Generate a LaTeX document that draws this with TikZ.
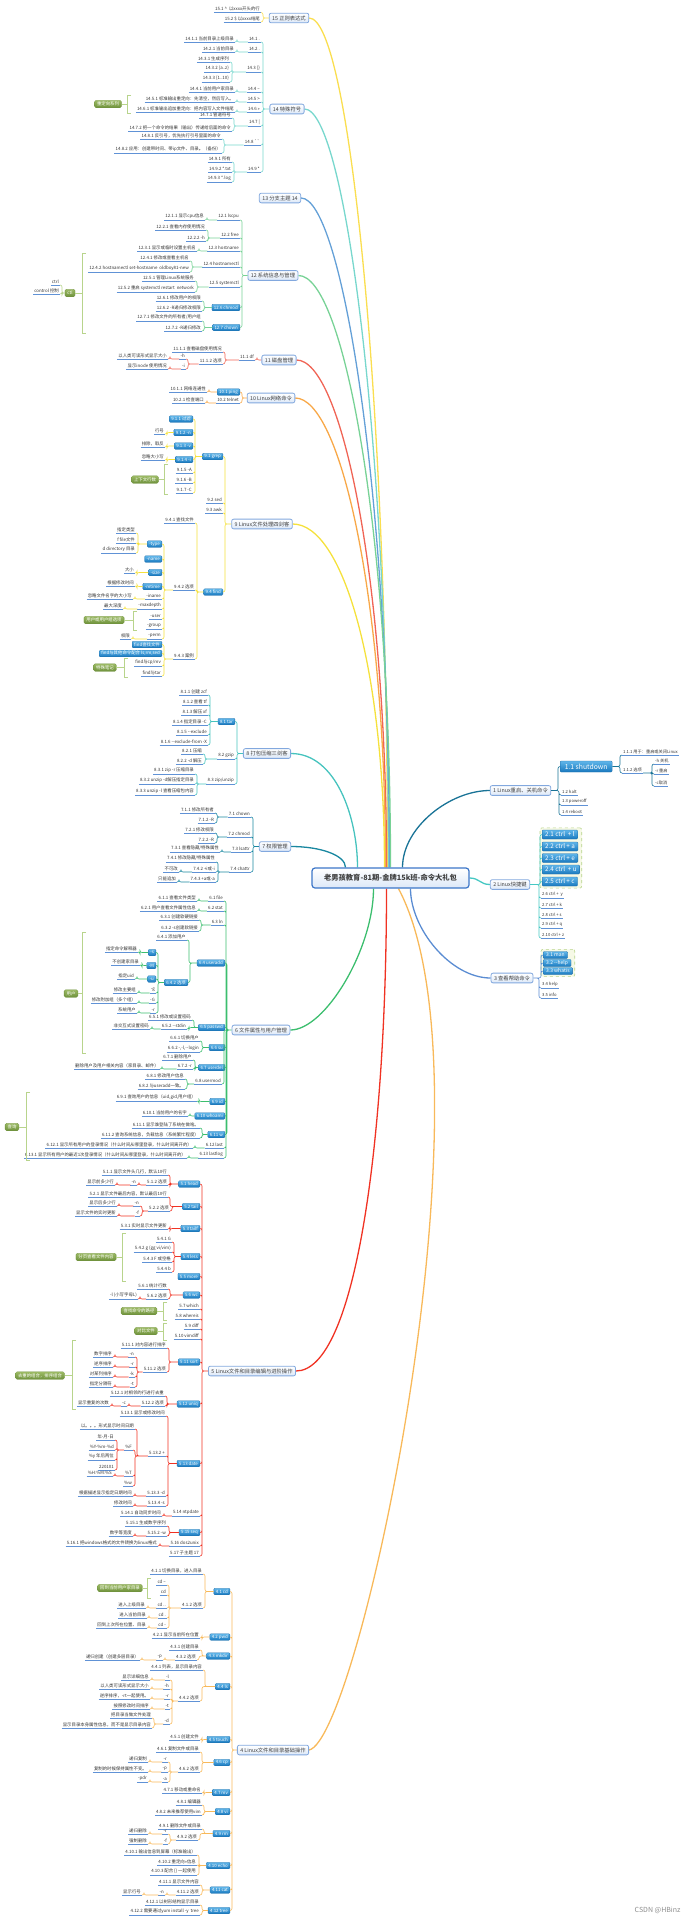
\documentclass[tikz,border=0pt]{standalone}
\usepackage{fontspec}
\setmainfont{Noto Sans CJK SC}
\usetikzlibrary{positioning,fit,backgrounds}
\definecolor{ulblue}{RGB}{96,146,214}
\definecolor{boxtop}{RGB}{96,182,234}
\definecolor{boxbot}{RGB}{24,120,190}
\definecolor{boxline}{RGB}{30,110,170}
\definecolor{mainfill}{RGB}{220,232,248}
\definecolor{mainline}{RGB}{130,168,222}
\definecolor{rootline}{RGB}{60,118,200}
\definecolor{sumtop}{RGB}{156,186,100}
\definecolor{sumbot}{RGB}{110,145,60}
\definecolor{brkgreen}{RGB}{184,212,140}
\definecolor{grpfill}{RGB}{246,249,230}
\definecolor{c15}{RGB}{250,222,80}
\definecolor{c14}{RGB}{120,215,205}
\definecolor{c13}{RGB}{100,160,215}
\definecolor{c12}{RGB}{120,210,150}
\definecolor{c11}{RGB}{240,100,85}
\definecolor{c10}{RGB}{248,168,72}
\definecolor{c9}{RGB}{245,225,60}
\definecolor{c8}{RGB}{70,195,190}
\definecolor{c7}{RGB}{25,135,160}
\definecolor{c6}{RGB}{60,190,110}
\definecolor{c5}{RGB}{240,50,35}
\definecolor{c4}{RGB}{248,185,90}
\definecolor{c1}{RGB}{25,115,150}
\definecolor{c2}{RGB}{70,200,195}
\definecolor{c3}{RGB}{90,140,210}
\newcommand{\fsz}[1]{\fontsize{#1}{#1}\selectfont}

\begin{document}
\begin{tikzpicture}[x=1pt, y=-1pt,
  root/.style={draw=rootline, line width=1.2pt, top color=white, bottom color=mainfill,
               rounded corners=3pt, font=\bfseries\fsz{7.3}, text=black!75,
               minimum width=157pt, minimum height=20pt},
  main/.style={draw=mainline, line width=0.8pt, top color=white, bottom color=mainfill,
               rounded corners=2pt, font=\fsz{5.3}, text=black!75, inner xsep=3pt, inner ysep=2.4pt},
  topic/.style={anchor=south east, font=\fsz{4.4}, text=black!80, inner xsep=1pt, inner ysep=1.2pt,
               append after command={(\tikzlastnode.south west) edge[uline] (\tikzlastnode.south east)}},
  topicr/.style={topic, anchor=south west, font=\fsz{4.2}},
  uline/.style={draw=ulblue, line width=0.9pt},
  bluebox/.style={anchor=east, font=\fsz{4.4}, text=white, top color=boxtop, bottom color=boxbot,
               draw=boxline, line width=0.3pt, rounded corners=1pt, inner xsep=2pt, inner ysep=1pt,
               minimum height=6.5pt},
  bigbox/.style={bluebox, anchor=west, font=\fsz{6.3}, minimum height=9pt, inner xsep=3pt},
  summary/.style={font=\fsz{4.4}, text=white, top color=sumtop, bottom color=sumbot, draw=sumbot,
               line width=0.3pt, rounded corners=1.5pt, inner xsep=2.5pt, inner ysep=1.5pt, minimum height=7.5pt},
  brace/.style={draw=brkgreen, line width=1pt},
  grp/.style={draw=brkgreen, dashed, line width=0.6pt, fill=grpfill, rounded corners=2pt, inner sep=2pt},
  tree/.style={rounded corners=2pt, line width=0.6pt, to path={-- ++(2,0) |- (\tikztotarget)}},
  treer/.style={rounded corners=2pt, line width=0.6pt, to path={-- ++(-2,0) |- (\tikztotarget)}},
  branch/.style={line width=1.3pt}
]
\useasboundingbox (0,0) rectangle (688,1920);

% root
\node[root] (root) at (390.5,878) {老男孩教育-81期-金牌15k班-命令大礼包};

% 15 regex
\node[main] (n15) at (289,18) {15 正则表达式};
\node[topic] (t15a) at (261,12.5) {15.1 \textasciicircum\ \ 以xxxx开头的行};
\node[topic] (t15b) at (261,22) {15.2 \$ 以xxxx结尾};
\draw[c15,tree] (t15a.south east) to (n15.west) (t15b.south east) to (n15.west);

% 14 special symbols
\node[main] (n14) at (287,109) {14 特殊符号};
\node[topic] (t14a) at (261,42) {14.1 .};
\node[topic] (t14a1) at (235,42) {14.1.1 当前目录上级目录};
\node[topic] (t14b) at (261,52) {14.2 .};
\node[topic] (t14b1) at (235,52) {14.2.1 当前目录};
\node[topic] (t14c) at (261,72) {14.3 \{\}};
\node[topic] (t14c1) at (230,62) {14.3.1 生成序列};
\node[topic] (t14c2) at (230,72) {14.3.2 \{a..z\}};
\node[topic] (t14c3) at (230,82) {14.3.3 \{1..10\}};
\node[topic] (t14d) at (261,92) {14.4 \textasciitilde};
\node[topic] (t14d1) at (235,92) {14.4.1 当前用户家目录};
\node[topic] (t14e) at (261,102) {14.5 >};
\node[topic] (t14e1) at (235,102) {14.5.1 标准输出重定向：先清空，然后写入。};
\node[topic] (t14f) at (261,112) {14.6 >>};
\node[topic] (t14f1) at (235,112) {14.6.1 标准输出追加重定向：把内容写入文件结尾};
\node[summary] (s14) at (108,104) {重定向系列};
\node[topic] (t14g) at (261,126) {14.7 \textbar};
\node[topic] (t14g1) at (232,118) {14.7.1 管道符号};
\node[topic] (t14g2) at (232,131) {14.7.2 把一个命令的结果（输出）传递给后面的命令};
\node[topic] (t14h) at (261,145) {14.8 \textasciigrave\textasciigrave};
\node[topic] (t14h1) at (222,139) {14.8.1 反引号，优先执行引号里面的命令};
\node[topic] (t14h2) at (222,153) {14.8.2 应用：创建带时间、带ip文件、目录。（备份）};
\node[topic] (t14i) at (261,172) {14.9 *};
\node[topic] (t14i1) at (232,162) {14.9.1 所有};
\node[topic] (t14i2) at (232,172) {14.9.2 *.txt};
\node[topic] (t14i3) at (232,182) {14.9.3 *.log};
\draw[c14,tree] (t14a.south east) to (n14.west) (t14b.south east) to (n14.west)
  (t14c.south east) to (n14.west) (t14d.south east) to (n14.west) (t14e.south east) to (n14.west)
  (t14f.south east) to (n14.west) (t14g.south east) to (n14.west) (t14h.south east) to (n14.west)
  (t14i.south east) to (n14.west);
\draw[c14,tree] (t14a1.south east) to (t14a.south west) (t14b1.south east) to (t14b.south west)
  (t14c1.south east) to (t14c.south west) (t14c2.south east) to (t14c.south west)
  (t14c3.south east) to (t14c.south west) (t14d1.south east) to (t14d.south west)
  (t14e1.south east) to (t14e.south west) (t14f1.south east) to (t14f.south west)
  (t14g1.south east) to (t14g.south west) (t14g2.south east) to (t14g.south west)
  (t14h1.south east) to (t14h.south west) (t14h2.south east) to (t14h.south west)
  (t14i1.south east) to (t14i.south west) (t14i2.south east) to (t14i.south west)
  (t14i3.south east) to (t14i.south west);
\draw[brace] (131,95) -- (127,95) -- (127,113) -- (131,113) (127,104) -- (s14.east);

% 13
\node[main] (n13) at (280,198) {13 分支主题 14};

% 12 system info
\node[main] (n12) at (273,275.5) {12 系统信息与管理};
\node[topic] (t12a) at (240,220) {12.1 lscpu};
\node[topic] (t12a1) at (205,220) {12.1.1 显示cpu信息};
\node[topic] (t12b) at (240,238) {12.2 free};
\node[topic] (t12b1) at (206,230) {12.2.1 查看内存使用情况};
\node[topic] (t12b2) at (206,241) {12.2.2 -h};
\node[topic] (t12c) at (240,251) {12.3 hostname};
\node[topic] (t12c1) at (197,251) {12.3.1 显示或临时设置主机名};
\node[topic] (t12d) at (240,267) {12.4 hostnamectl};
\node[topic] (t12d1) at (190,261) {12.4.1 修改或查看主机名};
\node[topic] (t12d2) at (190,272) {12.4.2 hostnamectl set-hostname \ oldboy81-new};
\node[topic] (t12e) at (240,287) {12.5 systemctl};
\node[topic] (t12e1) at (195,281) {12.5.1 管理Linux系统服务};
\node[topic] (t12e2) at (195,292) {12.5.2 重启 systemctl restart \ network};
\node[bluebox] (t12f) at (240,307.5) {12.6 chmod};
\node[topic] (t12f1) at (202,301) {12.6.1 修改用户的权限};
\node[topic] (t12f2) at (202,311) {12.6.2 -R递归修改权限};
\node[bluebox] (t12g) at (240,327.5) {12.7 chown};
\node[topic] (t12g1) at (202,321) {12.7.1 修改文件的所有者/用户组};
\node[topic] (t12g2) at (202,331) {12.7.2 -R递归修改};
\node[summary] (s12) at (70,293) {ctl};
\node[topic] (s12a) at (60,285) {ctrl};
\node[topic] (s12b) at (60,294) {control 控制};
\draw[c12,tree] (t12a.south east) to (n12.west) (t12b.south east) to (n12.west)
  (t12c.south east) to (n12.west) (t12d.south east) to (n12.west) (t12e.south east) to (n12.west)
  (t12f.east) to (n12.west) (t12g.east) to (n12.west);
\draw[c12,tree] (t12a1.south east) to (t12a.south west) (t12b1.south east) to (t12b.south west)
  (t12b2.south east) to (t12b.south west) (t12c1.south east) to (t12c.south west)
  (t12d1.south east) to (t12d.south west) (t12d2.south east) to (t12d.south west)
  (t12e1.south east) to (t12e.south west) (t12e2.south east) to (t12e.south west)
  (t12f1.south east) to (t12f.west) (t12f2.south east) to (t12f.west)
  (t12g1.south east) to (t12g.west) (t12g2.south east) to (t12g.west);
\draw[brkgreen,tree] (s12a.south east) to (s12.west) (s12b.south east) to (s12.west);
\draw[brace] (86,253) -- (82,253) -- (82,333) -- (86,333) (82,293) -- (s12.east);

% 11 disk
\node[main] (n11) at (279,360) {11 磁盘管理};
\node[topic] (t11a) at (255,360) {11.1 df};
\node[topic] (t11a1) at (223,352) {11.1.1 查看磁盘使用情况};
\node[topic] (t11a2) at (223,364) {11.1.2 选项};
\node[topic] (t11a2h) at (186,359) {-h};
\node[topic] (t11a2h1) at (168,359) {以人类可读形式显示大小};
\node[topic] (t11a2i) at (186,369) {-i};
\node[topic] (t11a2i1) at (168,369) {显示inode 使用情况};
\draw[c11,tree] (t11a.south east) to (n11.west) (t11a1.south east) to (t11a.south west)
  (t11a2.south east) to (t11a.south west) (t11a2h.south east) to (t11a2.south west)
  (t11a2i.south east) to (t11a2.south west) (t11a2h1.south east) to (t11a2h.south west)
  (t11a2i1.south east) to (t11a2i.south west);

% 10 network
\node[main] (n10) at (271,398) {10 Linux网络命令};
\node[bluebox] (t10a) at (240,392) {10.1 ping};
\node[topic] (t10a1) at (207,392) {10.1.1 网络连通性};
\node[topic] (t10b) at (240,403) {10.2 telnet};
\node[topic] (t10b1) at (205,403) {10.2.1 检查端口};
\draw[c10,tree] (t10a.east) to (n10.west) (t10b.south east) to (n10.west)
  (t10a1.south east) to (t10a.west) (t10b1.south east) to (t10b.south west);

% 9 text tools
\node[main] (n9) at (262,524) {9 Linux文件处理四剑客};
\node[bluebox] (t9a) at (223,456.5) {9.1 grep};
\node[bluebox] (t9a1) at (193,419) {9.1.1 过滤};
\node[bluebox] (t9a2) at (193,432.5) {9.1.2 -n};
\node[topic] (t9a2a) at (165,434) {行号};
\node[bluebox] (t9a3) at (193,446) {9.1.3 -v};
\node[topic] (t9a3a) at (165,447) {排除，取反};
\node[bluebox] (t9a4) at (193,459.5) {9.1.4 -i};
\node[topic] (t9a4a) at (165,460) {忽略大小写};
\node[topic] (t9a5) at (193,473) {9.1.5 -A};
\node[topic] (t9a6) at (193,483) {9.1.6 -B};
\node[topic] (t9a7) at (193,493) {9.1.7 -C};
\node[summary] (s9a) at (145,479.5) {上下文行数};
\node[topic] (t9b) at (223,503) {9.2 sed};
\node[topic] (t9c) at (223,513) {9.3 awk};
\node[bluebox] (t9d) at (223,592) {9.4 find};
\node[topic] (t9d1) at (195,523) {9.4.1 查找文件};
\node[topic] (t9d2) at (195,590) {9.4.2 选项};
\node[bluebox] (t9dty) at (162,544) {-type};
\node[topic] (t9dty1) at (136,533) {指定类型};
\node[topic] (t9dty2) at (136,543) {f file文件};
\node[topic] (t9dty3) at (136,553) {d directory 目录};
\node[bluebox] (t9dna) at (162,559) {-name};
\node[bluebox] (t9dsi) at (162,572.5) {-size};
\node[topic] (t9dsi1) at (135,573) {大小};
\node[bluebox] (t9dmt) at (162,586.5) {-mtime};
\node[topic] (t9dmt1) at (135,586) {根据修改时间};
\node[topic] (t9din) at (162,599) {-iname};
\node[topic] (t9din1) at (133,599) {忽略文件名字的大小写};
\node[topic] (t9dmd) at (162,609) {-maxdepth};
\node[topic] (t9dmd1) at (123,609) {最大深度};
\node[topic] (t9dus) at (162,619) {-user};
\node[topic] (t9dgr) at (162,629) {-group};
\node[summary] (s9d) at (104,620) {用户或用户组选项};
\node[topic] (t9dpe) at (162,639) {-perm};
\node[topic] (t9dpe1) at (131,639) {权限};
\node[topic] (t9d3) at (195,659) {9.4.3 案例};
\node[bluebox] (t9d3a) at (162,644.5) {find查找文件};
\node[bluebox] (t9d3b) at (162,653.5) {find与其他命令配合 ls,rm,sed};
\node[topic] (t9d3c) at (162,666) {find与cp/mv};
\node[topic] (t9d3d) at (162,676) {find与tar};
\node[summary] (s9e) at (105,667.5) {特殊笔记};
\draw[c9,tree] (t9a.east) to (n9.west) (t9b.south east) to (n9.west) (t9c.south east) to (n9.west)
  (t9d.east) to (n9.west);
\draw[c9,tree] (t9a1.east) to (t9a.west) (t9a2.east) to (t9a.west) (t9a3.east) to (t9a.west)
  (t9a4.east) to (t9a.west) (t9a5.south east) to (t9a.west) (t9a6.south east) to (t9a.west)
  (t9a7.south east) to (t9a.west) (t9a2a.south east) to (t9a2.west) (t9a3a.south east) to (t9a3.west)
  (t9a4a.south east) to (t9a4.west);
\draw[c9,tree] (t9d1.south east) to (t9d.west) (t9d2.south east) to (t9d.west) (t9d3.south east) to (t9d.west)
  (t9dty.east) to (t9d2.south west) (t9dna.east) to (t9d2.south west) (t9dsi.east) to (t9d2.south west)
  (t9dmt.east) to (t9d2.south west) (t9din.south east) to (t9d2.south west) (t9dmd.south east) to (t9d2.south west)
  (t9dus.south east) to (t9d2.south west) (t9dgr.south east) to (t9d2.south west) (t9dpe.south east) to (t9d2.south west)
  (t9dty1.south east) to (t9dty.west) (t9dty2.south east) to (t9dty.west) (t9dty3.south east) to (t9dty.west)
  (t9dsi1.south east) to (t9dsi.west) (t9dmt1.south east) to (t9dmt.west) (t9din1.south east) to (t9din.south west)
  (t9dmd1.south east) to (t9dmd.south west) (t9dpe1.south east) to (t9dpe.south west)
  (t9d3a.east) to (t9d3.south west) (t9d3b.east) to (t9d3.south west) (t9d3c.south east) to (t9d3.south west)
  (t9d3d.south east) to (t9d3.south west);
\draw[brace] (168,464) -- (164,464) -- (164,494) -- (168,494) (164,479.5) -- (s9a.east);
\draw[brace] (137,611) -- (133,611) -- (133,630) -- (137,630) (133,620) -- (s9d.east);
\draw[brace] (128,658) -- (124,658) -- (124,677) -- (128,677) (124,667.5) -- (s9e.east);

% 8 archives
\node[main] (n8) at (267,753.5) {8 打包压缩三剑客};
\node[bluebox] (t8a) at (235,721.5) {8.1 tar};
\node[topic] (t8a1) at (208,695) {8.1.1 创建 zcf};
\node[topic] (t8a2) at (208,705) {8.1.2 查看 tf};
\node[topic] (t8a3) at (208,715) {8.1.3 解压 xf};
\node[topic] (t8a4) at (208,725) {8.1.4 指定目录 -C};
\node[topic] (t8a5) at (208,735) {8.1.5 -{}-exclude};
\node[topic] (t8a6) at (208,745) {8.1.6 -{}-exclude-from -X};
\node[topic] (t8b) at (235,759) {8.2 gzip};
\node[topic] (t8b1) at (203,754) {8.2.1 压缩};
\node[topic] (t8b2) at (203,764) {8.2.2 -d 解压};
\node[topic] (t8c) at (235,784) {8.3 zip/unzip};
\node[topic] (t8c1) at (195,774) {8.3.1 zip -r 压缩目录};
\node[topic] (t8c2) at (195,784) {8.3.2 unzip -d解压指定目录};
\node[topic] (t8c3) at (195,795) {8.3.3 unzip -l 查看压缩包内容};
\draw[c8,tree] (t8a.east) to (n8.west) (t8b.south east) to (n8.west) (t8c.south east) to (n8.west)
  (t8a1.south east) to (t8a.west) (t8a2.south east) to (t8a.west) (t8a3.south east) to (t8a.west)
  (t8a4.south east) to (t8a.west) (t8a5.south east) to (t8a.west) (t8a6.south east) to (t8a.west)
  (t8b1.south east) to (t8b.south west) (t8b2.south east) to (t8b.south west)
  (t8c1.south east) to (t8c.south west) (t8c2.south east) to (t8c.south west) (t8c3.south east) to (t8c.south west);

% 7 permissions
\node[main] (n7) at (275,846.5) {7 权限管理};
\node[topic] (t7a) at (251,817) {7.1 chown};
\node[topic] (t7a1) at (215,813) {7.1.1 修改所有者};
\node[topic] (t7a2) at (215,823) {7.1.2 -R};
\node[topic] (t7b) at (251,837) {7.2 chmod};
\node[topic] (t7b1) at (215,833) {7.2.1 修改权限};
\node[topic] (t7b2) at (215,843) {7.2.2 -R};
\node[topic] (t7c) at (251,852) {7.3 lsattr};
\node[topic] (t7c1) at (220,852) {7.3.1 查看隐藏/特殊属性};
\node[topic] (t7d) at (251,872) {7.4 chattr};
\node[topic] (t7d1) at (216,862) {7.4.1 修改隐藏/特殊属性};
\node[topic] (t7d2) at (216,872) {7.4.2 +i或-i};
\node[topic] (t7d2a) at (179,872) {不可改};
\node[topic] (t7d3) at (216,882) {7.4.3 +a或-a};
\node[topic] (t7d3a) at (177,882) {只能追加};
\draw[c7,tree] (t7a.south east) to (n7.west) (t7b.south east) to (n7.west) (t7c.south east) to (n7.west)
  (t7d.south east) to (n7.west) (t7a1.south east) to (t7a.south west) (t7a2.south east) to (t7a.south west)
  (t7b1.south east) to (t7b.south west) (t7b2.south east) to (t7b.south west) (t7c1.south east) to (t7c.south west)
  (t7d1.south east) to (t7d.south west) (t7d2.south east) to (t7d.south west) (t7d3.south east) to (t7d.south west)
  (t7d2a.south east) to (t7d2.south west) (t7d3a.south east) to (t7d3.south west);

% 6 file attributes and users
\node[main] (n6) at (261,1030) {6 文件属性与用户管理};
\node[topic] (t6a) at (224,901) {6.1 file};
\node[topic] (t6a1) at (197,901) {6.1.1 查看文件类型};
\node[topic] (t6b) at (224,911) {6.2 stat};
\node[topic] (t6b1) at (197,911) {6.2.1 用户查看文件属性信息};
\node[topic] (t6c) at (224,925) {6.3 ln};
\node[topic] (t6c1) at (199,920) {6.3.1 创建软硬链接};
\node[topic] (t6c2) at (199,931) {6.3.2 -s创建软链接};
\node[bluebox] (t6d) at (225,963) {6.4 useradd};
\node[topic] (t6d1) at (187,940) {6.4.1 添加用户};
\node[bluebox] (t6d2) at (188,982.5) {6.4.2 选项};
\node[bluebox] (t6d2s) at (156,952.5) {-s};
\node[topic] (t6d2s1) at (138,952) {指定命令解释器};
\node[bluebox] (t6d2M) at (156,965.5) {-M};
\node[topic] (t6d2M1) at (140,965) {不创建家目录};
\node[bluebox] (t6d2u) at (156,979) {-u};
\node[topic] (t6d2u1) at (135,979) {指定uid};
\node[topic] (t6d2g) at (156,993) {-g};
\node[topic] (t6d2g1) at (137,993) {修改主要组};
\node[topic] (t6d2G) at (156,1003) {-G};
\node[topic] (t6d2G1) at (137,1003) {修改附加组（多个组）};
\node[topic] (t6d2r) at (156,1013) {-r};
\node[topic] (t6d2r1) at (137,1013) {系统用户};
\node[bluebox] (t6e) at (225,1027.5) {6.5 passwd};
\node[topic] (t6e1) at (192,1020) {6.5.1 修改或设置密码};
\node[topic] (t6e2) at (187,1029) {6.5.2 -{}-stdin};
\node[topic] (t6e2a) at (150,1029) {非交互式设置密码};
\node[bluebox] (t6f) at (225,1047.5) {6.6 su};
\node[topic] (t6f1) at (200,1041) {6.6.1 切换用户};
\node[topic] (t6f2) at (200,1052) {6.6.2 -,-l,-{}-login};
\node[summary] (s6a) at (71,993.5) {用户};
\node[bluebox] (t6g) at (225,1067.5) {6.7 userdel};
\node[topic] (t6g1) at (193,1060) {6.7.1 删除用户};
\node[topic] (t6g2) at (193,1069) {6.7.2 -r};
\node[topic] (t6g2a) at (160,1069) {删除用户及用户相关内容（家目录、邮件）};
\node[topic] (t6h) at (222,1084) {6.8 usermod};
\node[topic] (t6h1) at (185,1079) {6.8.1 修改用户信息};
\node[topic] (t6h2) at (185,1089) {6.8.2 与useradd一致。};
\node[bluebox] (t6i) at (225,1101.5) {6.9 id};
\node[topic] (t6i1) at (197,1101) {6.9.1 查询用户的信息（uid,gid,用户组）};
\node[bluebox] (t6j) at (225,1116) {6.10 whoami};
\node[topic] (t6j1) at (188,1116) {6.10.1 当前用户的名字};
\node[bluebox] (t6k) at (225,1134.5) {6.11 w};
\node[topic] (t6k1) at (200,1128) {6.11.1 显示谁登陆了系统在做啥。};
\node[topic] (t6k2) at (200,1138) {6.11.2 查询系统信息，负载信息（系统繁忙程度）};
\node[topic] (t6l) at (224,1148) {6.12 last};
\node[topic] (t6l1) at (193,1148) {6.12.1 显示所有用户的登录情况（什么时间从哪里登录，什么时间离开的）};
\node[topic] (t6m) at (224,1158) {6.13 lastlog};
\node[topic] (t6m1) at (187,1158) {6.13.1 显示所有用户的最近1次登录情况（什么时间从哪里登录，什么时间离开的）};
\node[summary] (s6b) at (12,1127) {查询};
\draw[c6,tree] (t6a.south east) to (n6.west) (t6b.south east) to (n6.west) (t6c.south east) to (n6.west)
  (t6d.east) to (n6.west) (t6e.east) to (n6.west) (t6f.east) to (n6.west) (t6g.east) to (n6.west)
  (t6h.south east) to (n6.west) (t6i.east) to (n6.west) (t6j.east) to (n6.west) (t6k.east) to (n6.west)
  (t6l.south east) to (n6.west) (t6m.south east) to (n6.west);
\draw[c6,tree] (t6a1.south east) to (t6a.south west) (t6b1.south east) to (t6b.south west)
  (t6c1.south east) to (t6c.south west) (t6c2.south east) to (t6c.south west)
  (t6d1.south east) to (t6d.west) (t6d2.east) to (t6d.west)
  (t6d2s.east) to (t6d2.west) (t6d2M.east) to (t6d2.west) (t6d2u.east) to (t6d2.west)
  (t6d2g.south east) to (t6d2.west) (t6d2G.south east) to (t6d2.west) (t6d2r.south east) to (t6d2.west)
  (t6d2s1.south east) to (t6d2s.west) (t6d2M1.south east) to (t6d2M.west) (t6d2u1.south east) to (t6d2u.west)
  (t6d2g1.south east) to (t6d2g.south west) (t6d2G1.south east) to (t6d2G.south west) (t6d2r1.south east) to (t6d2r.south west)
  (t6e1.south east) to (t6e.west) (t6e2.south east) to (t6e.west) (t6e2a.south east) to (t6e2.south west)
  (t6f1.south east) to (t6f.west) (t6f2.south east) to (t6f.west)
  (t6g1.south east) to (t6g.west) (t6g2.south east) to (t6g.west) (t6g2a.south east) to (t6g2.south west)
  (t6h1.south east) to (t6h.south west) (t6h2.south east) to (t6h.south west)
  (t6i1.south east) to (t6i.west) (t6j1.south east) to (t6j.west)
  (t6k1.south east) to (t6k.west) (t6k2.south east) to (t6k.west)
  (t6l1.south east) to (t6l.south west) (t6m1.south east) to (t6m.south west);
\draw[brace] (86,932) -- (82,932) -- (82,1053) -- (86,1053) (82,993.5) -- (s6a.east);
\draw[brace] (30,1092) -- (26,1092) -- (26,1160) -- (30,1160) (26,1127) -- (s6b.east);

% 5 editing and advanced
\node[main] (n5) at (252,1371) {5 Linux文件和目录编辑与进阶操作};
\node[bluebox] (t5a) at (200,1184) {5.1 head};
\node[topic] (t5a1) at (168,1175) {5.1.1 显示文件头几行，默认10行};
\node[topic] (t5a2) at (168,1185) {5.1.2 选项};
\node[topic] (t5a2n) at (137,1185) {-n};
\node[topic] (t5a2n1) at (115,1185) {显示前多少行};
\node[bluebox] (t5b) at (200,1206.5) {5.2 tail};
\node[topic] (t5b1) at (168,1197) {5.2.1 显示文件最后内容，默认最后10行};
\node[topic] (t5b2) at (170,1211) {5.2.2 选项};
\node[topic] (t5b2n) at (140,1206) {-n};
\node[topic] (t5b2n1) at (117,1206) {显示后多少行};
\node[topic] (t5b2f) at (140,1216) {-f};
\node[topic] (t5b2f1) at (117,1216) {显示文件的实时更新};
\node[bluebox] (t5c) at (200,1228.5) {5.3 tailf};
\node[topic] (t5c1) at (168,1229) {5.3.1 实时显示文件更新};
\node[bluebox] (t5d) at (200,1256.5) {5.4 less};
\node[topic] (t5d1) at (172,1242) {5.4.1 G};
\node[topic] (t5d2) at (172,1252) {5.4.2 g (gg vi/vim)};
\node[topic] (t5d3) at (172,1262) {5.4.3 F 或空格};
\node[topic] (t5d4) at (172,1272) {5.4.4 b};
\node[bluebox] (t5e) at (200,1276.5) {5.5 more};
\node[summary] (s5a) at (96,1257) {分页查看文件内容};
\node[bluebox] (t5f) at (200,1295) {5.6 wc};
\node[topic] (t5f1) at (168,1289) {5.6.1 统计行数};
\node[topic] (t5f2) at (168,1299) {5.6.2 选项};
\node[topic] (t5f2a) at (138,1299) {-l (小写字母L)};
\node[topic] (t5g) at (200,1309) {5.7 which};
\node[topic] (t5h) at (200,1319) {5.8 whereis};
\node[summary] (s5b) at (139,1311) {查找命令的路径};
\node[topic] (t5i) at (200,1329) {5.9 diff};
\node[topic] (t5j) at (200,1339) {5.10 vimdiff};
\node[summary] (s5c) at (146,1331) {对比文件};
\node[bluebox] (t5k) at (200,1362) {5.11 sort};
\node[topic] (t5k1) at (167,1348) {5.11.1 对内容进行排序};
\node[topic] (t5k2) at (167,1372) {5.11.2 选项};
\node[topic] (t5k2n) at (135,1357) {-n};
\node[topic] (t5k2n1) at (113,1357) {数字排序};
\node[topic] (t5k2r) at (135,1367) {-r};
\node[topic] (t5k2r1) at (113,1367) {逆序排序};
\node[topic] (t5k2k) at (135,1377) {-k};
\node[topic] (t5k2k1) at (113,1377) {对某列排序};
\node[topic] (t5k2t) at (135,1387) {-t};
\node[topic] (t5k2t1) at (113,1387) {指定分隔符};
\node[bluebox] (t5l) at (200,1404) {5.12 uniq};
\node[topic] (t5l1) at (165,1396) {5.12.1 对相邻的行进行去重};
\node[topic] (t5l2) at (165,1406) {5.12.2 选项};
\node[topic] (t5l2c) at (127,1406) {-c};
\node[topic] (t5l2c1) at (110,1406) {显示重复的次数};
\node[summary] (s5d) at (40,1375.5) {去重的组合，排序组合};
\node[bluebox] (t5m) at (200,1463.5) {5.13 date};
\node[topic] (t5m1) at (166,1416) {5.13.1 显示或修改时间};
\node[topic] (t5m2) at (166,1456) {5.13.2 +};
\node[topic] (t5m2a) at (135,1429) {以。。。形式显示时间日期};
\node[topic] (t5m2F) at (133,1450) {\%F};
\node[topic] (t5m2F1) at (115,1440) {年-月-日};
\node[topic] (t5m2F2) at (115,1450) {\%Y-\%m-\%d};
\node[topic] (t5m2F3) at (115,1460) {\%y 年后两位};
\node[topic] (t5m2F4) at (115,1470) {220101};
\node[topic] (t5m2T) at (133,1476) {\%T};
\node[topic] (t5m2T1) at (113,1476) {\%H:\%M:\%S};
\node[topic] (t5m2w) at (133,1486) {\%w};
\node[topic] (t5m3) at (166,1496) {5.13.3 -d};
\node[topic] (t5m3a) at (133,1496) {根据描述显示指定日期时间};
\node[topic] (t5m4) at (166,1506) {5.13.4 -s};
\node[topic] (t5m4a) at (133,1506) {修改时间};
\node[topic] (t5n) at (200,1516) {5.14 ntpdate};
\node[topic] (t5n1) at (162,1516) {5.14.1 自动同步时间};
\node[bluebox] (t5o) at (200,1532.5) {5.15 seq};
\node[topic] (t5o1) at (167,1526) {5.15.1 生成数字序列};
\node[topic] (t5o2) at (167,1536) {5.15.2 -w};
\node[topic] (t5o2a) at (133,1536) {数字等宽度};
\node[topic] (t5p) at (200,1546) {5.16 dos2unix};
\node[topic] (t5p1) at (158,1546) {5.16.1 把windows格式的文件转换为linux格式};
\node[topic] (t5q) at (200,1556) {5.17 子主题 17};
\draw[c5,tree] (t5a.east) to (n5.west) (t5b.east) to (n5.west) (t5c.east) to (n5.west) (t5d.east) to (n5.west)
  (t5e.east) to (n5.west) (t5f.east) to (n5.west) (t5g.south east) to (n5.west) (t5h.south east) to (n5.west)
  (t5i.south east) to (n5.west) (t5j.south east) to (n5.west) (t5k.east) to (n5.west) (t5l.east) to (n5.west)
  (t5m.east) to (n5.west) (t5n.south east) to (n5.west) (t5o.east) to (n5.west) (t5p.south east) to (n5.west)
  (t5q.south east) to (n5.west);
\draw[c5,tree] (t5a1.south east) to (t5a.west) (t5a2.south east) to (t5a.west) (t5a2n.south east) to (t5a2.south west)
  (t5a2n1.south east) to (t5a2n.south west)
  (t5b1.south east) to (t5b.west) (t5b2.south east) to (t5b.west) (t5b2n.south east) to (t5b2.south west)
  (t5b2f.south east) to (t5b2.south west) (t5b2n1.south east) to (t5b2n.south west) (t5b2f1.south east) to (t5b2f.south west)
  (t5c1.south east) to (t5c.west) (t5d1.south east) to (t5d.west) (t5d2.south east) to (t5d.west)
  (t5d3.south east) to (t5d.west) (t5d4.south east) to (t5d.west)
  (t5f1.south east) to (t5f.west) (t5f2.south east) to (t5f.west) (t5f2a.south east) to (t5f2.south west)
  (t5k1.south east) to (t5k.west) (t5k2.south east) to (t5k.west)
  (t5k2n.south east) to (t5k2.south west) (t5k2r.south east) to (t5k2.south west)
  (t5k2k.south east) to (t5k2.south west) (t5k2t.south east) to (t5k2.south west)
  (t5k2n1.south east) to (t5k2n.south west) (t5k2r1.south east) to (t5k2r.south west)
  (t5k2k1.south east) to (t5k2k.south west) (t5k2t1.south east) to (t5k2t.south west)
  (t5l1.south east) to (t5l.west) (t5l2.south east) to (t5l.west) (t5l2c.south east) to (t5l2.south west)
  (t5l2c1.south east) to (t5l2c.south west);
\draw[c5,tree] (t5m1.south east) to (t5m.west) (t5m2.south east) to (t5m.west) (t5m3.south east) to (t5m.west)
  (t5m4.south east) to (t5m.west) (t5m2a.south east) to (t5m2.south west) (t5m2F.south east) to (t5m2.south west)
  (t5m2T.south east) to (t5m2.south west) (t5m2w.south east) to (t5m2.south west)
  (t5m2F1.south east) to (t5m2F.south west) (t5m2F2.south east) to (t5m2F.south west)
  (t5m2F3.south east) to (t5m2F.south west) (t5m2F4.south east) to (t5m2F.south west)
  (t5m2T1.south east) to (t5m2T.south west) (t5m3a.south east) to (t5m3.south west)
  (t5m4a.south east) to (t5m4.south west) (t5n1.south east) to (t5n.south west)
  (t5o1.south east) to (t5o.west) (t5o2.south east) to (t5o.west) (t5o2a.south east) to (t5o2.south west)
  (t5p1.south east) to (t5p.south west);
\draw[brace] (126,1233) -- (122,1233) -- (122,1281) -- (126,1281) (122,1257) -- (s5a.east);
\draw[brace] (167,1302) -- (163,1302) -- (163,1320) -- (167,1320) (163,1311) -- (s5b.east);
\draw[brace] (167,1323) -- (163,1323) -- (163,1340) -- (167,1340) (163,1331) -- (s5c.east);
\draw[brace] (76,1340) -- (72,1340) -- (72,1409) -- (76,1409) (72,1375.5) -- (s5d.east);

% 4 basic file operations
\node[main] (n4) at (273,1750) {4 Linux文件和目录基础操作};
\node[bluebox] (t4a) at (230,1591.5) {4.1 cd};
\node[topic] (t4a1) at (203,1574) {4.1.1 切换目录，进入目录};
\node[topic] (t4a2) at (203,1608) {4.1.2 选项};
\node[topic] (t4a2a) at (167,1585) {cd \textasciitilde};
\node[topic] (t4a2b) at (167,1595) {cd};
\node[summary] (s4a) at (120,1588) {回到当前用户家目录};
\node[topic] (t4a2c) at (167,1608) {cd ..};
\node[topic] (t4a2c1) at (146,1608) {进入上级目录};
\node[topic] (t4a2d) at (167,1618) {cd .};
\node[topic] (t4a2d1) at (147,1618) {进入当前目录};
\node[topic] (t4a2e) at (167,1628) {cd -};
\node[topic] (t4a2e1) at (147,1628) {回到上次所在位置、目录};
\node[bluebox] (t4b) at (230,1637) {4.2 pwd};
\node[topic] (t4b1) at (200,1638) {4.2.1 显示当前所在位置};
\node[bluebox] (t4c) at (230,1656) {4.3 mkdir};
\node[topic] (t4c1) at (200,1650) {4.3.1 创建目录};
\node[topic] (t4c2) at (197,1660) {4.3.2 选项};
\node[topic] (t4c2p) at (163,1660) {-p};
\node[topic] (t4c2p1) at (140,1660) {递归创建（创建多层目录）};
\node[bluebox] (t4d) at (230,1686.5) {4.4 ls};
\node[topic] (t4d1) at (203,1670) {4.4.1 列表，显示目录内容};
\node[topic] (t4d2) at (200,1701) {4.4.2 选项};
\node[topic] (t4d2l) at (170,1680) {-l};
\node[topic] (t4d2l1) at (150,1680) {显示详细信息};
\node[topic] (t4d2h) at (170,1689) {-h};
\node[topic] (t4d2h1) at (150,1689) {以人类可读形式显示大小};
\node[topic] (t4d2r) at (170,1699) {-r};
\node[topic] (t4d2r1) at (150,1699) {逆序排序，-rt一起使用。};
\node[topic] (t4d2t) at (170,1709) {-t};
\node[topic] (t4d2t1) at (150,1709) {按照修改时间排序};
\node[topic] (t4d2d) at (170,1724) {-d};
\node[topic] (t4d2d1) at (152,1718) {把目录当做文件处理};
\node[topic] (t4d2d2) at (152,1728) {显示目录本身属性信息，而不是显示目录内容};
\node[bluebox] (t4e) at (230,1739.5) {4.5 touch};
\node[topic] (t4e1) at (200,1740) {4.5.1 创建文件};
\node[bluebox] (t4f) at (230,1762.5) {4.6 cp};
\node[topic] (t4f1) at (200,1752) {4.6.1 复制文件或目录};
\node[topic] (t4f2) at (200,1772) {4.6.2 选项};
\node[topic] (t4f2r) at (168,1762) {-r};
\node[topic] (t4f2r1) at (148,1762) {递归复制};
\node[topic] (t4f2p) at (168,1772) {-p};
\node[topic] (t4f2p1) at (148,1772) {复制的时候保持属性不变。};
\node[topic] (t4f2a) at (168,1782) {-a};
\node[topic] (t4f2a1) at (148,1782) {-pdr};
\node[bluebox] (t4g) at (230,1792.5) {4.7 mv};
\node[topic] (t4g1) at (202,1793) {4.7.1 移动或重命名};
\node[bluebox] (t4h) at (230,1811.5) {4.8 vi};
\node[topic] (t4h1) at (202,1805) {4.8.1 编辑器};
\node[topic] (t4h2) at (202,1815) {4.8.2 未来推荐使用vim};
\node[bluebox] (t4i) at (230,1833.5) {4.9 rm};
\node[topic] (t4i1) at (202,1829) {4.9.1 删除文件或目录};
\node[topic] (t4i2) at (198,1840) {4.9.2 选项};
\node[topic] (t4i2r) at (168,1834) {-r};
\node[topic] (t4i2r1) at (148,1834) {递归删除};
\node[topic] (t4i2f) at (168,1844) {-f};
\node[topic] (t4i2f1) at (148,1844) {强制删除};
\node[bluebox] (t4j) at (230,1865.5) {4.10 echo};
\node[topic] (t4j1) at (197,1855) {4.10.1 输出信息到屏幕（标准输出）};
\node[topic] (t4j2) at (197,1865) {4.10.2 重定向>>信息};
\node[topic] (t4j3) at (197,1875) {4.10.3 配合 \{\} 一起使用};
\node[bluebox] (t4k) at (230,1890) {4.11 cat};
\node[topic] (t4k1) at (200,1885) {4.11.1 显示文件内容};
\node[topic] (t4k2) at (200,1895) {4.11.2 选项};
\node[topic] (t4k2n) at (165,1895) {-n};
\node[topic] (t4k2n1) at (142,1895) {显示行号};
\node[bluebox] (t4l) at (230,1910.5) {4.12 tree};
\node[topic] (t4l1) at (200,1905) {4.12.1 以树形结构显示目录};
\node[topic] (t4l2) at (200,1915) {4.12.2 需要通过yum install -y \ tree};
\draw[c4,tree] (t4a.east) to (n4.west) (t4b.east) to (n4.west) (t4c.east) to (n4.west) (t4d.east) to (n4.west)
  (t4e.east) to (n4.west) (t4f.east) to (n4.west) (t4g.east) to (n4.west) (t4h.east) to (n4.west)
  (t4i.east) to (n4.west) (t4j.east) to (n4.west) (t4k.east) to (n4.west) (t4l.east) to (n4.west);
\draw[c4,tree] (t4a1.south east) to (t4a.west) (t4a2.south east) to (t4a.west)
  (t4a2a.south east) to (t4a2.south west) (t4a2b.south east) to (t4a2.south west) (t4a2c.south east) to (t4a2.south west)
  (t4a2d.south east) to (t4a2.south west) (t4a2e.south east) to (t4a2.south west)
  (t4a2c1.south east) to (t4a2c.south west) (t4a2d1.south east) to (t4a2d.south west) (t4a2e1.south east) to (t4a2e.south west)
  (t4b1.south east) to (t4b.west) (t4c1.south east) to (t4c.west) (t4c2.south east) to (t4c.west)
  (t4c2p.south east) to (t4c2.south west) (t4c2p1.south east) to (t4c2p.south west)
  (t4d1.south east) to (t4d.west) (t4d2.south east) to (t4d.west)
  (t4d2l.south east) to (t4d2.south west) (t4d2h.south east) to (t4d2.south west) (t4d2r.south east) to (t4d2.south west)
  (t4d2t.south east) to (t4d2.south west) (t4d2d.south east) to (t4d2.south west)
  (t4d2l1.south east) to (t4d2l.south west) (t4d2h1.south east) to (t4d2h.south west) (t4d2r1.south east) to (t4d2r.south west)
  (t4d2t1.south east) to (t4d2t.south west) (t4d2d1.south east) to (t4d2d.south west) (t4d2d2.south east) to (t4d2d.south west);
\draw[c4,tree] (t4e1.south east) to (t4e.west) (t4f1.south east) to (t4f.west) (t4f2.south east) to (t4f.west)
  (t4f2r.south east) to (t4f2.south west) (t4f2p.south east) to (t4f2.south west) (t4f2a.south east) to (t4f2.south west)
  (t4f2r1.south east) to (t4f2r.south west) (t4f2p1.south east) to (t4f2p.south west) (t4f2a1.south east) to (t4f2a.south west)
  (t4g1.south east) to (t4g.west) (t4h1.south east) to (t4h.west) (t4h2.south east) to (t4h.west)
  (t4i1.south east) to (t4i.west) (t4i2.south east) to (t4i.west)
  (t4i2r.south east) to (t4i2.south west) (t4i2f.south east) to (t4i2.south west)
  (t4i2r1.south east) to (t4i2r.south west) (t4i2f1.south east) to (t4i2f.south west)
  (t4j1.south east) to (t4j.west) (t4j2.south east) to (t4j.west) (t4j3.south east) to (t4j.west)
  (t4k1.south east) to (t4k.west) (t4k2.south east) to (t4k.west)
  (t4k2n.south east) to (t4k2.south west) (t4k2n1.south east) to (t4k2n.south west)
  (t4l1.south east) to (t4l.west) (t4l2.south east) to (t4l.west);
\draw[brace] (151,1578) -- (147,1578) -- (147,1598) -- (151,1598) (147,1588) -- (s4a.east);

% 1 shutdown
\node[main] (n1) at (520.5,790.5) {1 Linux重启、关机命令};
\node[bigbox, font=\fsz{6.8}, minimum height=11pt, minimum width=52pt] (r1a) at (560,766.5) {1.1 shutdown};
\node[topicr] (r1a1) at (622,755) {1.1.1 用于：重启或关闭Linux};
\node[topicr] (r1a2) at (622,773) {1.1.2 选项};
\node[topicr] (r1a2h) at (654,764) {-h 关机};
\node[topicr] (r1a2r) at (654,774) {-r 重启};
\node[topicr] (r1a2c) at (654,786) {-c取消};
\node[topicr] (r1b) at (561,795) {1.2 halt};
\node[topicr] (r1c) at (561,805) {1.3 poweroff};
\node[topicr] (r1d) at (561,815) {1.4 reboot};
\draw[c1,treer] (r1a.west) to (n1.east) (r1b.south west) to (n1.east) (r1c.south west) to (n1.east)
  (r1d.south west) to (n1.east) (r1a1.south west) to (r1a.east) (r1a2.south west) to (r1a.east)
  (r1a2h.south west) to (r1a2.south east) (r1a2r.south west) to (r1a2.south east) (r1a2c.south west) to (r1a2.south east);

% 2 shortcuts
\node[main] (n2) at (510,884.5) {2 Linux快捷键};
\node[bigbox] (r2a) at (542,834.5) {2.1 ctrl \ + l};
\node[bigbox] (r2b) at (542,846.5) {2.2 ctrl + a};
\node[bigbox] (r2c) at (542,858) {2.3 ctrl + e};
\node[bigbox] (r2d) at (542,869.5) {2.4 ctrl \ + u};
\node[bigbox] (r2e) at (542,881.5) {2.5 ctrl + c};
\node[topicr] (r2f) at (541,898) {2.6 ctrl + \ y};
\node[topicr] (r2g) at (541,908) {2.7 ctrl + k};
\node[topicr] (r2h) at (541,918) {2.8 ctrl + s};
\node[topicr] (r2i) at (541,928) {2.9 ctrl + q};
\node[topicr] (r2j) at (541,938) {2.10 ctrl + z};
\draw[c2,treer] (r2a.west) to (n2.east) (r2b.west) to (n2.east) (r2c.west) to (n2.east) (r2d.west) to (n2.east)
  (r2e.west) to (n2.east) (r2f.south west) to (n2.east) (r2g.south west) to (n2.east) (r2h.south west) to (n2.east)
  (r2i.south west) to (n2.east) (r2j.south west) to (n2.east);

% 3 help
\node[main] (n3) at (512,978) {3 查看帮助命令};
\node[bigbox, font=\fsz{5}, minimum height=7pt] (r3a) at (543,955) {3.1 man};
\node[bigbox, font=\fsz{5}, minimum height=7pt] (r3b) at (543,963) {3.2 -{}-help};
\node[bigbox, font=\fsz{5}, minimum height=7pt] (r3c) at (543,971) {3.3 whatis};
\node[topicr] (r3d) at (541,988) {3.4 help};
\node[topicr] (r3e) at (541,998) {3.5 info};
\draw[c3,treer] (r3a.west) to (n3.east) (r3b.west) to (n3.east) (r3c.west) to (n3.east)
  (r3d.south west) to (n3.east) (r3e.south west) to (n3.east);

\node[font=\fsz{7}, text=black!45, anchor=south east] (csdn) at (684,1917) {CSDN @HBinz};

\begin{scope}[on background layer]
\node[grp, fit=(r2a)(r2b)(r2c)(r2d)(r2e)] (g2) {};
\node[grp, fit=(r3a)(r3b)(r3c)] (g3) {};
\draw[c15,branch] (n15.east) .. controls +(40,0) and +(0,-470) .. ([xshift=-3pt]root.north);
\draw[c14,branch] (n14.east) .. controls +(40,0) and +(0,-430) .. ([xshift=-2pt]root.north);
\draw[c13,branch] (n13.east) .. controls +(40,0) and +(0,-380) .. ([xshift=-1pt]root.north);
\draw[c12,branch] (n12.east) .. controls +(45,0) and +(0,-340) .. (root.north);
\draw[c11,branch] (n11.east) .. controls +(45,0) and +(0,-290) .. ([xshift=-4pt]root.north);
\draw[c10,branch] (n10.east) .. controls +(45,0) and +(0,-270) .. ([xshift=-5pt]root.north);
\draw[c9,branch] (n9.east) .. controls +(50,0) and +(0,-200) .. ([xshift=-6pt]root.north);
\draw[c8,branch] (n8.east) .. controls +(45,0) and +(0,-50) .. ([xshift=-33pt]root.north);
\draw[c7,branch] (n7.east) .. controls +(30,0) and +(0,-12) .. ([xshift=-45pt]root.north);
\draw[c6,branch] (n6.east) .. controls +(35,0) and +(0,60) .. ([xshift=-17pt]root.south);
\draw[c5,branch] (n5.east) .. controls +(60,0) and +(0,250) .. ([xshift=-4pt]root.south);
\draw[c4,branch] (n4.east) .. controls +(50,-10) and +(102,192) .. ([xshift=8pt]root.south);
\draw[c1,branch] ([xshift=12pt]root.north) .. controls +(0,-40) and +(-40,0) .. (n1.west);
\draw[c2,branch] (root.east) .. controls +(10,0) and +(-10,0) .. (n2.west);
\draw[c3,branch] ([xshift=20pt]root.south) .. controls +(0,40) and +(-40,0) .. (n3.west);
\end{scope}
\end{tikzpicture}
\end{document}
